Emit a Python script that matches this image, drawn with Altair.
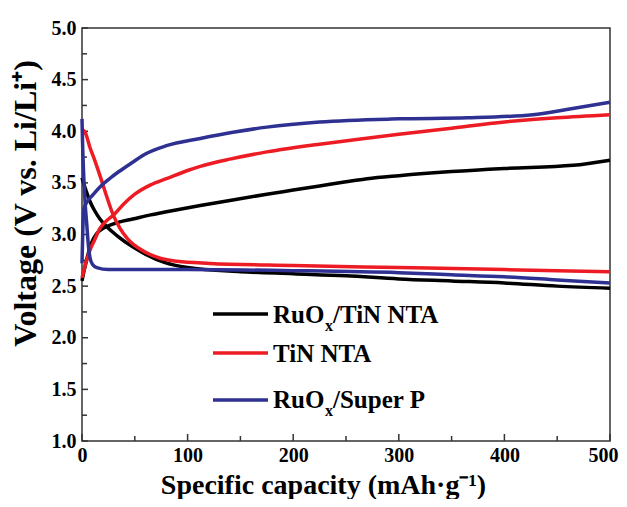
import altair as alt
import pandas as pd

# ---------------- data ----------------
series_names = ["RuOx/TiN NTA", "TiN NTA", "RuOx/Super P"]
series_colors = ["#000000", "#ED1C24", "#2E3192"]

black_charge_cap = [0, 2, 5, 9, 14, 20, 26.5, 35, 48, 65, 80, 112, 140, 175, 200, 225, 250, 270, 300, 350, 400, 465, 500]
black_charge_v = [2.55, 2.65, 2.78, 2.92, 3.01, 3.06, 3.09, 3.12, 3.15, 3.19, 3.22, 3.28, 3.33, 3.39, 3.43, 3.47, 3.51, 3.54, 3.57, 3.61, 3.64, 3.67, 3.72]
black_dis_cap = [0, 3, 7.6, 12, 17, 25, 33, 48, 60, 78, 100, 150, 200, 250, 300, 350, 400, 450, 500]
black_dis_v = [3.55, 3.45, 3.32, 3.23, 3.15, 3.06, 2.99, 2.88, 2.81, 2.73, 2.68, 2.64, 2.62, 2.60, 2.57, 2.55, 2.53, 2.50, 2.48]

red_charge_cap = [0, 3, 8, 12, 17, 23, 30, 40, 50, 65, 80, 100, 112, 140, 175, 225, 260, 300, 350, 400, 450, 500]
red_charge_v = [2.58, 2.70, 2.86, 2.95, 3.06, 3.13, 3.19, 3.30, 3.39, 3.48, 3.54, 3.62, 3.66, 3.73, 3.80, 3.875, 3.92, 3.97, 4.03, 4.09, 4.13, 4.16]
red_dis_cap = [0, 3, 7.6, 12, 17, 23, 29.5, 36, 43, 58, 74, 90, 121, 200, 300, 400, 500]
red_dis_v = [4.02, 3.99, 3.84, 3.72, 3.57, 3.38, 3.19, 3.06, 2.96, 2.84, 2.77, 2.74, 2.72, 2.70, 2.68, 2.66, 2.64]

blue_charge_cap = [0, 0.8, 2, 5, 10, 17, 26, 35, 48, 60, 80, 112, 143, 175, 225, 300, 365, 427, 459, 500]
blue_charge_v = [2.72, 3.05, 3.25, 3.32, 3.38, 3.46, 3.54, 3.61, 3.70, 3.78, 3.86, 3.93, 3.99, 4.04, 4.09, 4.12, 4.13, 4.16, 4.21, 4.28]
blue_dis_cap = [0, 0.5, 1.5, 3, 4.5, 6, 7.5, 10, 14, 25, 50, 100, 200, 300, 350, 400, 450, 500]
blue_dis_v = [4.12, 3.90, 3.60, 3.30, 3.10, 2.90, 2.78, 2.71, 2.68, 2.66, 2.66, 2.66, 2.65, 2.63, 2.61, 2.59, 2.56, 2.53]

x_label_values = [0, 100, 200, 300, 400, 500]
x_minor_ticks = [50, 150, 250, 350, 450]
y_label_values = [1.0, 1.5, 2.0, 2.5, 3.0, 3.5, 4.0, 4.5, 5.0]
y_minor_ticks = [1.25, 1.75, 2.25, 2.75, 3.25, 3.75, 4.25, 4.75]

# ---------------- build table ----------------
curves = [
    (series_names[0], "charge", black_charge_cap, black_charge_v),
    (series_names[0], "discharge", black_dis_cap, black_dis_v),
    (series_names[1], "charge", red_charge_cap, red_charge_v),
    (series_names[1], "discharge", red_dis_cap, red_dis_v),
    (series_names[2], "charge", blue_charge_cap, blue_charge_v),
    (series_names[2], "discharge", blue_dis_cap, blue_dis_v),
]
rows = []
for s, branch, caps, vs in curves:
    for c, v in zip(caps, vs):
        rows.append({"series": s, "curve": s + " " + branch, "cap": c, "v": v,
                     "z": series_names.index(s)})
df = pd.DataFrame(rows)

W, H = 528, 413
FONT = "Liberation Serif"

xscale = alt.Scale(domain=[0, 500], nice=False, zero=False)
yscale = alt.Scale(domain=[1.0, 5.0], nice=False, zero=False)

xaxis = alt.Axis(values=x_label_values, title="Specific capacity (mAh·g⁻¹)",
                 labelFont=FONT, labelFontSize=20, labelFontWeight="bold", labelColor="#000",
                 labelPadding=4, labelFlush=False,
                 labelOffset={"condition": {"test": "datum.value === 500", "value": -7}, "value": 0},
                 ticks=False, domain=False, grid=False,
                 titleFont=FONT, titleFontSize=28, titleFontWeight="bold", titleColor="#000",
                 titleX=241, titleY=52, titleBaseline="alphabetic")
yaxis = alt.Axis(values=y_label_values, format=".1f", title="Voltage (V vs. Li/Li⁺)",
                 labelFont=FONT, labelFontSize=20, labelFontWeight="bold", labelColor="#000",
                 labelPadding=6, labelFlush=False, ticks=False, domain=False, grid=False,
                 titleFont=FONT, titleFontSize=32, titleFontWeight="bold", titleColor="#000",
                 titleX=-47, titleY=175, titleBaseline="alphabetic", titleAngle=-90)

lines = alt.Chart(df).mark_line(strokeWidth=3.5, interpolate="monotone", clip=False).encode(
    x=alt.X("cap:Q", scale=xscale, axis=xaxis),
    y=alt.Y("v:Q", scale=yscale, axis=yaxis),
    color=alt.Color("series:N", scale=alt.Scale(domain=series_names, range=series_colors), legend=None),
    detail="curve:N",
    order="z:Q",
)

tick_color = "#333"
xmaj = alt.Chart(pd.DataFrame({"t": x_label_values})).mark_rule(color=tick_color, strokeWidth=1.5).encode(
    x=alt.X("t:Q", scale=xscale), y=alt.value(H), y2=alt.value(H - 7))
xmin = alt.Chart(pd.DataFrame({"t": x_minor_ticks})).mark_rule(color=tick_color, strokeWidth=1.5).encode(
    x=alt.X("t:Q", scale=xscale), y=alt.value(H), y2=alt.value(H - 5))
ymaj = alt.Chart(pd.DataFrame({"t": y_label_values})).mark_rule(color=tick_color, strokeWidth=1.5).encode(
    y=alt.Y("t:Q", scale=yscale), x=alt.value(0), x2=alt.value(6))
ymin = alt.Chart(pd.DataFrame({"t": y_minor_ticks})).mark_rule(color=tick_color, strokeWidth=1.5).encode(
    y=alt.Y("t:Q", scale=yscale), x=alt.value(0), x2=alt.value(5))

# ---------------- manual legend ----------------
legend_layers = []
leg_line_y = [286, 325, 372]
leg_base_y = [295, 334, 380]
for i, name in enumerate(series_names):
    legend_layers.append(
        alt.Chart(pd.DataFrame({"n": [name]})).mark_rule(color=series_colors[i], strokeWidth=3.5).encode(
            x=alt.value(131), x2=alt.value(186), y=alt.value(leg_line_y[i])))
    if "x/" in name:
        head, tail = name.split("x/")
        parts = [(head, 191, leg_base_y[i], 25), ("x", 243, leg_base_y[i] + 8, 16), ("/" + tail, 251, leg_base_y[i], 25)]
    else:
        parts = [(name, 191, leg_base_y[i], 25)]
    for txt, px, py, fs in parts:
        legend_layers.append(
            alt.Chart(pd.DataFrame({"label": [txt]})).mark_text(
                font=FONT, fontSize=fs, fontWeight="bold", color="#000", align="left", baseline="alphabetic"
            ).encode(x=alt.value(px), y=alt.value(py), text="label:N"))

chart = alt.layer(xmaj, xmin, ymaj, ymin, lines, *legend_layers).properties(
    width=W, height=H,
    padding={"left": 74, "top": 20, "right": 9, "bottom": 58},
    autosize=alt.AutoSizeParams(type="none"),
).configure_view(stroke="#333", strokeWidth=1.5)

chart.save("out.html", embed_options={"renderer": "svg", "actions": False})
